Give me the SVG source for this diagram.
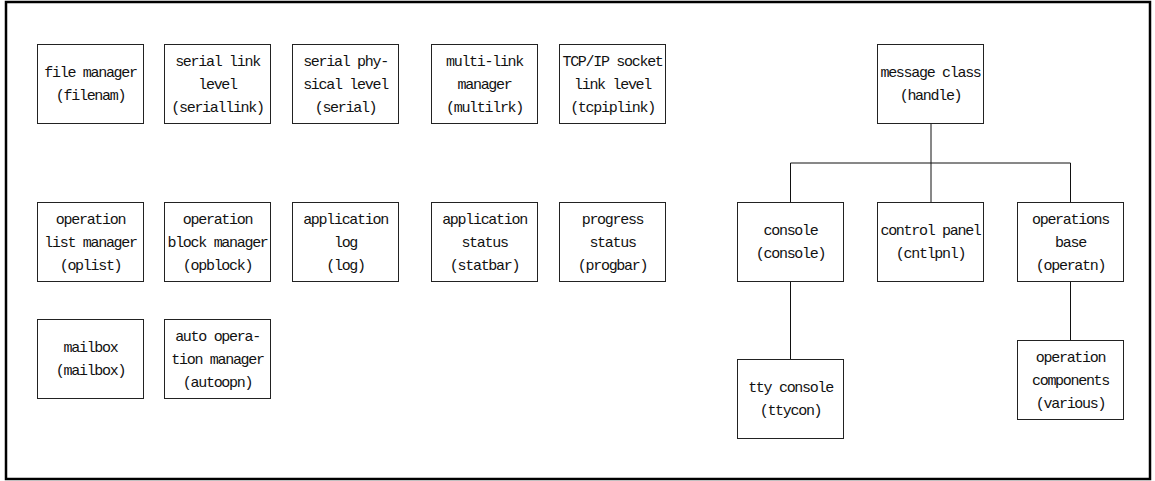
<svg xmlns="http://www.w3.org/2000/svg" width="1155" height="481" viewBox="0 0 1155 481">
  <style>
    .frame { fill: none; stroke: #000; stroke-width: 2.5; }
    .box { fill: #fff; stroke: #222; stroke-width: 1; }
    .lbl { font-family: "Liberation Mono", "DejaVu Sans Mono", monospace; font-size: 15px; fill: #111; text-anchor: middle; letter-spacing: -1.3px; }
    .wire { fill: none; stroke: #111; stroke-width: 1; }
  </style>
  <rect width="1155" height="481" fill="#fff"/>
  <rect class="frame" x="6" y="2" width="1144" height="477"/>

  <!-- connectors of the handle hierarchy -->
  <g id="connectors">
    <path class="wire" d="M931,123 V163 M790.5,163 H1070.5 M790.5,163 V202 M931,163 V202 M1070.5,163 V202"/>
    <path class="wire" d="M790.5,281 V359"/>
    <path class="wire" d="M1070.5,281 V340"/>
  </g>

  <!-- row 1 -->
  <g id="filenam">
    <rect class="box" x="37.5" y="44.5" width="106" height="79"/>
    <text class="lbl" x="90.5" y="77">file manager</text>
    <text class="lbl" x="90.5" y="100">(filenam)</text>
  </g>
  <g id="seriallink">
    <rect class="box" x="164.5" y="44.5" width="106" height="79"/>
    <text class="lbl" x="217.5" y="66">serial link</text>
    <text class="lbl" x="217.5" y="89">level</text>
    <text class="lbl" x="217.5" y="112">(seriallink)</text>
  </g>
  <g id="serial">
    <rect class="box" x="292.5" y="44.5" width="106" height="79"/>
    <text class="lbl" x="345.5" y="66">serial phy-</text>
    <text class="lbl" x="345.5" y="89">sical level</text>
    <text class="lbl" x="345.5" y="112">(serial)</text>
  </g>
  <g id="multilrk">
    <rect class="box" x="431.5" y="44.5" width="106" height="79"/>
    <text class="lbl" x="484.5" y="66">multi-link</text>
    <text class="lbl" x="484.5" y="89">manager</text>
    <text class="lbl" x="484.5" y="112">(multilrk)</text>
  </g>
  <g id="tcpiplink">
    <rect class="box" x="559.5" y="44.5" width="106" height="79"/>
    <text class="lbl" x="612.5" y="66">TCP/IP socket</text>
    <text class="lbl" x="612.5" y="89">link level</text>
    <text class="lbl" x="612.5" y="112">(tcpiplink)</text>
  </g>
  <g id="handle">
    <rect class="box" x="877.5" y="44.5" width="106" height="79"/>
    <text class="lbl" x="930.5" y="77">message class</text>
    <text class="lbl" x="930.5" y="100">(handle)</text>
  </g>

  <!-- row 2 -->
  <g id="oplist">
    <rect class="box" x="37.5" y="202.5" width="106" height="79"/>
    <text class="lbl" x="90.5" y="224">operation</text>
    <text class="lbl" x="90.5" y="247">list manager</text>
    <text class="lbl" x="90.5" y="270">(oplist)</text>
  </g>
  <g id="opblock">
    <rect class="box" x="164.5" y="202.5" width="106" height="79"/>
    <text class="lbl" x="217.5" y="224">operation</text>
    <text class="lbl" x="217.5" y="247">block manager</text>
    <text class="lbl" x="217.5" y="270">(opblock)</text>
  </g>
  <g id="log">
    <rect class="box" x="292.5" y="202.5" width="106" height="79"/>
    <text class="lbl" x="345.5" y="224">application</text>
    <text class="lbl" x="345.5" y="247">log</text>
    <text class="lbl" x="345.5" y="270">(log)</text>
  </g>
  <g id="statbar">
    <rect class="box" x="431.5" y="202.5" width="106" height="79"/>
    <text class="lbl" x="484.5" y="224">application</text>
    <text class="lbl" x="484.5" y="247">status</text>
    <text class="lbl" x="484.5" y="270">(statbar)</text>
  </g>
  <g id="progbar">
    <rect class="box" x="559.5" y="202.5" width="106" height="79"/>
    <text class="lbl" x="612.5" y="224">progress</text>
    <text class="lbl" x="612.5" y="247">status</text>
    <text class="lbl" x="612.5" y="270">(progbar)</text>
  </g>
  <g id="console">
    <rect class="box" x="737.5" y="202.5" width="106" height="79"/>
    <text class="lbl" x="790.5" y="235">console</text>
    <text class="lbl" x="790.5" y="258">(console)</text>
  </g>
  <g id="cntlpnl">
    <rect class="box" x="877.5" y="202.5" width="106" height="79"/>
    <text class="lbl" x="930.5" y="235">control panel</text>
    <text class="lbl" x="930.5" y="258">(cntlpnl)</text>
  </g>
  <g id="operatn">
    <rect class="box" x="1017.5" y="202.5" width="106" height="79"/>
    <text class="lbl" x="1070.5" y="224">operations</text>
    <text class="lbl" x="1070.5" y="247">base</text>
    <text class="lbl" x="1070.5" y="270">(operatn)</text>
  </g>

  <!-- row 3 -->
  <g id="mailbox">
    <rect class="box" x="37.5" y="319.5" width="106" height="79"/>
    <text class="lbl" x="90.5" y="352">mailbox</text>
    <text class="lbl" x="90.5" y="375">(mailbox)</text>
  </g>
  <g id="autoopn">
    <rect class="box" x="164.5" y="319.5" width="106" height="79"/>
    <text class="lbl" x="217.5" y="341">auto opera-</text>
    <text class="lbl" x="217.5" y="364">tion manager</text>
    <text class="lbl" x="217.5" y="387">(autoopn)</text>
  </g>
  <g id="various">
    <rect class="box" x="1017.5" y="340.5" width="106" height="79"/>
    <text class="lbl" x="1070.5" y="362">operation</text>
    <text class="lbl" x="1070.5" y="385">components</text>
    <text class="lbl" x="1070.5" y="408">(various)</text>
  </g>
  <g id="ttycon">
    <rect class="box" x="737.5" y="359.5" width="106" height="79"/>
    <text class="lbl" x="790.5" y="392">tty console</text>
    <text class="lbl" x="790.5" y="415">(ttycon)</text>
  </g>
</svg>
